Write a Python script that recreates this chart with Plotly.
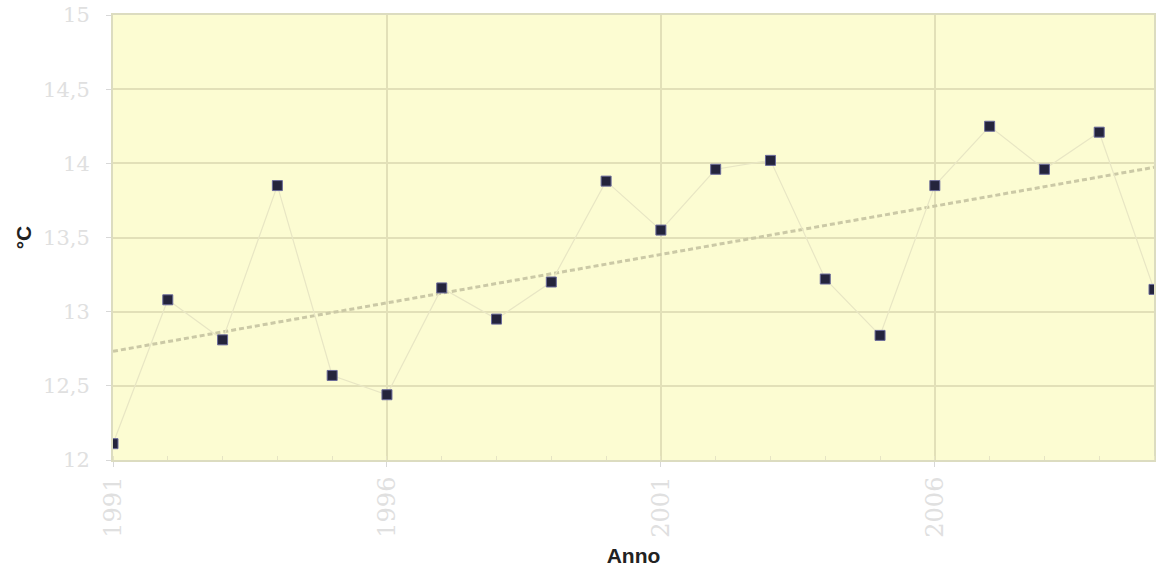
import numpy as np
import plotly.graph_objects as go

# Annual mean temperature (°C)
anni = list(range(1991, 2011))
temperature = [12.11, 13.08, 12.81, 13.85, 12.57, 12.44, 13.16, 12.95, 13.20, 13.88,
               13.55, 13.96, 14.02, 13.22, 12.84, 13.85, 14.25, 13.96, 14.21, 13.15]

# Linear trend over the series
slope, intercept = np.polyfit(anni, temperature, 1)
trend = [slope * a + intercept for a in anni]

fig = go.Figure()

fig.add_trace(go.Scatter(
    x=anni, y=trend, mode="lines",
    line=dict(color="#cbc9a6", width=3, dash="5px,3px"),
    hoverinfo="skip", showlegend=False,
))

fig.add_trace(go.Scatter(
    x=anni, y=temperature, mode="lines+markers",
    line=dict(color="#e8e6c4", width=1.2),
    marker=dict(symbol="square", size=10, color="#24243c",
                line=dict(color="#6a6a9a", width=1)),
    showlegend=False,
))

y_font = dict(family="DejaVu Serif", size=21, color="#e0e0e0")
x_font = dict(family="DejaVu Serif", size=24, color="#e0e0e0")
title_font = dict(family="Liberation Sans", size=21, color="#222222")

fig.update_layout(
    width=1156, height=573,
    margin=dict(l=113, r=0, t=15, b=113),
    paper_bgcolor="white",
    plot_bgcolor="#fcfcd2",
    separators=",.",
    xaxis=dict(
        range=[1991, 2010],
        tick0=1991, dtick=5,
        tickangle=-90,
        tickfont=x_font,
        ticks="outside", ticklen=5, tickcolor="#d8d8d8",
        showgrid=True, gridcolor="#e2e0b8", gridwidth=2,
        showline=True, linecolor="#dcdcc0", linewidth=2, mirror=True,
        zeroline=False,
        minor=dict(dtick=1, tick0=1991, ticks="inside", ticklen=4,
                   tickcolor="#e6e4c4", showgrid=False),
        title=dict(text="<b>Anno</b>", font=title_font, standoff=12),
    ),
    yaxis=dict(
        range=[12, 15],
        dtick=0.5,
        tickfont=y_font,
        ticks="outside", ticklen=5, tickcolor="#d8d8d8",
        ticklabelstandoff=12,
        showgrid=True, gridcolor="#e2e0b8", gridwidth=2,
        showline=True, linecolor="#dcdcc0", linewidth=2, mirror=True,
        zeroline=False,
        title=dict(text="<b>°C</b>", font=title_font, standoff=6),
    ),
)

fig.write_html("out.html")
